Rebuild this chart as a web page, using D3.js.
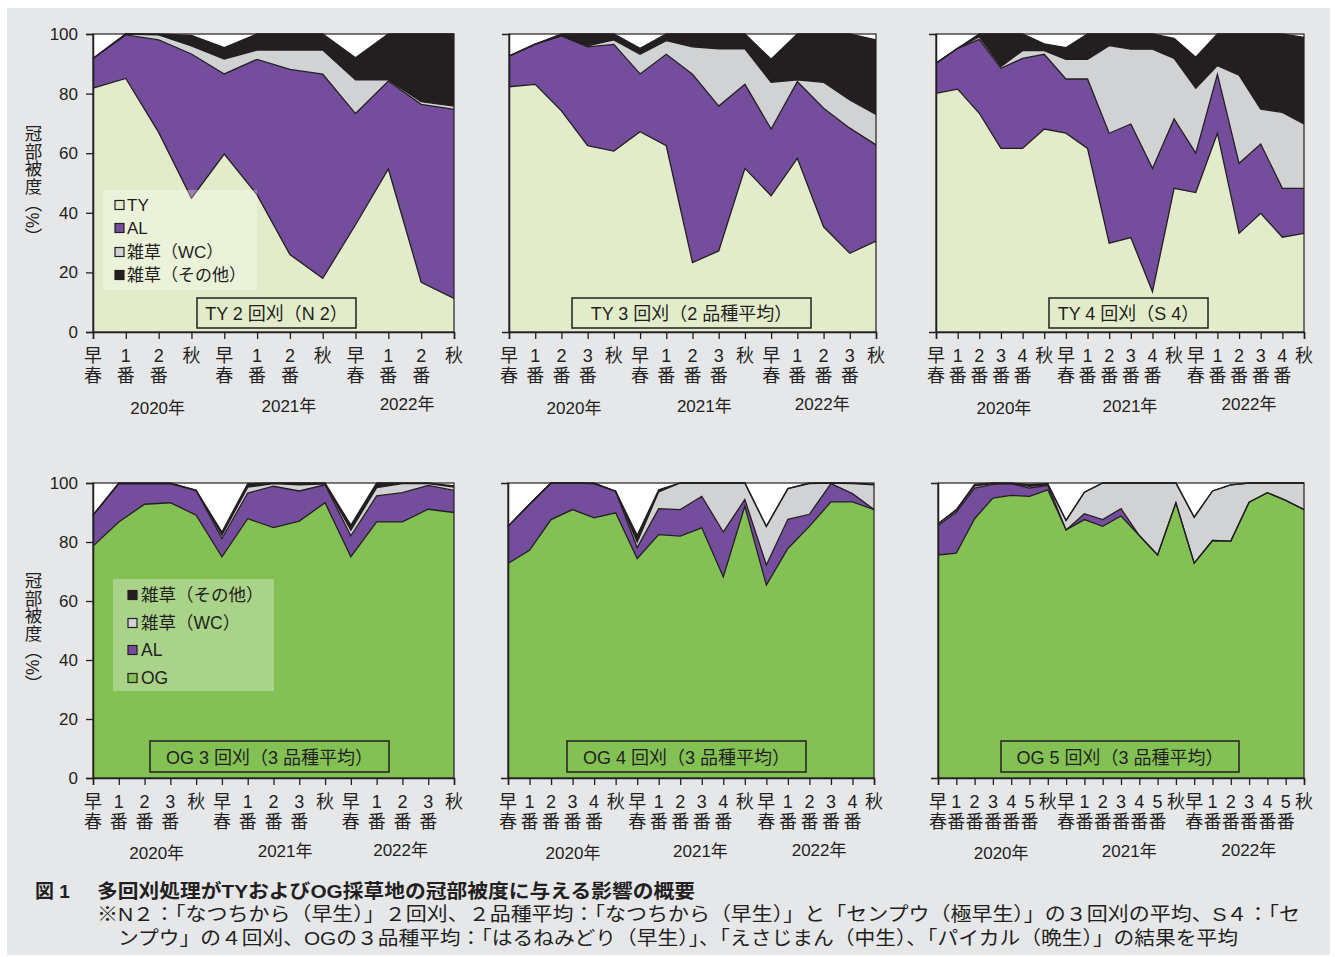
<!DOCTYPE html>
<html><head><meta charset="utf-8">
<script src="https://cdn.jsdelivr.net/npm/d3@7"></script>
<style>
body{margin:0;background:#fff}
svg{display:block}
text{font-family:"Liberation Sans","Noto Sans CJK JP",sans-serif;fill:#231f20}
</style>
</head><body>
<svg id="c" width="1335" height="957"></svg>
<script>
// ---------- categories (x tick labels) ----------
const cycle2 = ["早春","1番","2番","秋"];
const cycle3 = ["早春","1番","2番","3番","秋"];
const cycle4 = ["早春","1番","2番","3番","4番","秋"];
const cycle5 = ["早春","1番","2番","3番","4番","5番","秋"];
const catsTY2 = [...cycle2, ...cycle2, ...cycle2];
const catsTY3 = [...cycle3, ...cycle3, ...cycle3];
const catsTY4 = [...cycle4, ...cycle4, ...cycle4];
const catsOG3 = [...cycle3, ...cycle3, ...cycle3];
const catsOG4 = [...cycle4, ...cycle4, ...cycle4];
const catsOG5 = [...cycle5, ...cycle5, ...cycle5];
const yearLabels = ["2020年","2021年","2022年"];
const yTicks = [0,20,40,60,80,100];

// ---------- series values (%) ----------
// TY 2回刈 (N2)
const ty2_TY  = [81.8,85.1,67.0,44.9,59.7,46.0,26.0,18.0,36.0,54.7,16.7,11.3];
const ty2_AL  = [10.0,14.6,31.0,48.4,26.9,45.5,62.1,68.5,37.3,29.5,59.7,63.4];
const ty2_WC  = [0,0.3,1.7,2.7,5.0,3.1,6.5,8.1,11.3,0.4,0.9,1.1];
const ty2_OT  = [0,0,0.3,3.5,3.8,5.4,5.4,5.4,7.4,15.4,22.7,24.2];
// TY 3回刈 (2品種平均)
const ty3_TY  = [82.3,83.1,74.2,62.5,60.7,67.2,62.5,23.3,27.2,54.9,45.7,58.3,35.3,26.4,30.5];
const ty3_AL  = [10.3,13.5,25.2,33.2,35.8,19.4,30.7,63.2,48.6,28.2,22.4,25.7,39.8,42.0,32.3];
const ty3_WC  = [0,0,0,0.3,1.5,6.6,4.6,9.2,19.2,11.9,15.7,0.6,8.7,9.5,10.2];
const ty3_OT  = [0,0,0.6,4.0,2.0,2.0,2.2,4.3,5.0,5.0,7.7,15.4,16.2,22.1,25.0];
// TY 4回刈 (S4)
const ty4_TY  = [80.1,81.5,73.4,61.6,61.6,68.1,66.7,61.6,29.8,31.7,13.5,48.2,46.8,66.7,33.1,39.8,31.8,33.1];
const ty4_AL  = [10.1,13.7,24.8,26.9,30.2,25.1,18.2,23.3,36.9,38.1,41.4,23.3,13.2,19.8,23.5,23.3,16.4,15.1];
const ty4_WC  = [0,0,0.9,0.6,2.6,1.2,6.6,6.6,29.4,25.1,40.0,20.3,21.8,2.9,29.6,11.7,25.5,21.6];
const ty4_OT  = [0,0,0.9,10.9,5.6,2.3,3.9,8.5,3.9,5.1,5.1,6.7,10.4,10.6,13.8,25.2,26.3,29.1];
// OG 3回刈 (3品種平均)
const og3_OG  = [78.6,86.8,92.8,93.3,89.1,75.0,87.9,84.9,87.1,93.3,75.0,86.8,86.8,91.1,90.0];
const og3_AL  = [10.5,13.0,7.0,6.5,8.4,6.2,8.7,14.0,10.2,6.1,7.1,8.8,9.9,8.1,7.5];
const og3_WC  = [0,0,0,0,0,1.1,2.0,0.9,2.1,0.3,1.9,2.8,3.1,0.6,1.1];
const og3_OT  = [0,0.2,0.2,0.2,0,1.1,1.2,0.2,0.6,0.3,1.7,1.6,0.2,0.2,0.4];
// OG 4回刈 (3品種平均)
const og4_OG  = [72.7,77.2,87.6,91.0,88.2,89.9,74.4,82.5,82.0,84.8,68.2,92.1,65.4,77.8,85.3,93.6,93.6,91.0];
const og4_AL  = [12.6,15.6,12.4,9.0,11.6,7.3,3.7,8.8,9.0,10.7,15.2,2.3,6.8,9.9,4.1,6.2,2.8,0];
const og4_WC  = [0,0,0,0,0,0,1.9,5.7,9.0,4.5,16.6,5.6,13.1,10.4,10.4,0.2,3.4,8.4];
const og4_OT  = [0,0,0,0,0.2,0,2.3,0.7,0,0,0,0,0,0,0.2,0,0.2,0.2];
// OG 5回刈 (3品種平均)
const og5_OG  = [75.6,76.2,87.9,94.9,95.8,95.5,97.7,84.1,87.6,85.3,88.8,82.2,75.6,93.3,72.8,80.5,80.3,93.5,96.7,94.1,91.0];
const og5_AL  = [10.0,13.9,10.4,4.6,4.0,2.8,1.5,0,2.0,2.3,2.5,0,0,0,0,0,0,0,0,0,0];
const og5_WC  = [0.6,0.6,0.7,0.3,0,0.6,0.2,3.2,7.3,12.4,8.7,17.8,24.4,6.7,15.6,16.8,19.1,6.5,3.3,5.9,9.0];
const og5_OT  = [0,0.3,0.5,0.2,0.2,0.6,0.4,0,0,0,0,0,0,0,0,0,0,0,0,0,0];

// ---------- styling ----------
const C = {bg:"#e6e7e9", ty:"#e3ecca", og:"#84c155", al:"#744d9d", wc:"#d1d2d4", ot:"#231f20", ink:"#231f20"};

const svg = d3.select("#c");
svg.append("rect").attr("x",7).attr("y",8).attr("width",1323).attr("height",947).attr("fill",C.bg);

const panels = [
  {cats:catsTY2, keys:["TY","AL","WC","OT"], data:[ty2_TY,ty2_AL,ty2_WC,ty2_OT], colors:[C.ty,C.al,C.wc,C.ot],
   x0:93,x1:454,y0:34,y1:332, title:"TY 2 回刈（N 2）", box:[197,298,356,328], years:[1.97,5.97,9.57], yearY:[408,406,404], yAxis:true,
   legend:{rect:[103,190,154,100], items:[["TY",C.ty],["AL",C.al],["雑草（WC）",C.wc],["雑草（その他）",C.ot]], ys:[205,228,252,275], mx:115, tx:127, fs:17}},
  {cats:catsTY3, keys:["TY","AL","WC","OT"], data:[ty3_TY,ty3_AL,ty3_WC,ty3_OT], colors:[C.ty,C.al,C.wc,C.ot],
   x0:509,x1:876,y0:34,y1:332, title:"TY 3 回刈（2 品種平均）", box:[572,298,811,328], years:[2.48,7.45,11.95], yearY:[408,406,404]},
  {cats:catsTY4, keys:["TY","AL","WC","OT"], data:[ty4_TY,ty4_AL,ty4_WC,ty4_OT], colors:[C.ty,C.al,C.wc,C.ot],
   x0:936,x1:1304,y0:34,y1:332, title:"TY 4 回刈（S 4）", box:[1049,298,1208,328], years:[3.14,8.96,14.46], yearY:[408,406,404]},
  {cats:catsOG3, keys:["OG","AL","WC","OT"], data:[og3_OG,og3_AL,og3_WC,og3_OT], colors:[C.og,C.al,C.wc,C.ot],
   x0:93,x1:454,y0:483,y1:778, title:"OG 3 回刈（3 品種平均）", box:[150,741,389,772], years:[2.47,7.45,11.93], yearY:[853,851.5,850], yAxis:true,
   legend:{rect:[113,579,161,112], items:[["雑草（その他）",C.ot],["雑草（WC）",C.wc],["AL",C.al],["OG",C.og]], ys:[595,623,650,678], mx:128, tx:141, fs:17.5}},
  {cats:catsOG4, keys:["OG","AL","WC","OT"], data:[og4_OG,og4_AL,og4_WC,og4_OT], colors:[C.og,C.al,C.wc,C.ot],
   x0:508,x1:874,y0:483,y1:778, title:"OG 4 回刈（3 品種平均）", box:[567,741,806,772], years:[3.02,8.94,14.45], yearY:[853,851.5,850]},
  {cats:catsOG5, keys:["OG","AL","WC","OT"], data:[og5_OG,og5_AL,og5_WC,og5_OT], colors:[C.og,C.al,C.wc,C.ot],
   x0:938,x1:1304,y0:483,y1:778, title:"OG 5 回刈（3 品種平均）", box:[1001,741,1239,772], years:[3.45,10.45,16.98], yearY:[853,851.5,850]}
];

panels.forEach(p => {
  const n = p.cats.length;
  const idx = d3.range(n);
  const x = d3.scalePoint().domain(idx).range([p.x0,p.x1]);
  const xl = d3.scaleLinear().domain([0,n-1]).range([p.x0,p.x1]);
  const y = d3.scaleLinear().domain([0,100]).range([p.y1,p.y0]);
  const table = idx.map(i => { const r = {i}; p.keys.forEach((k,j)=> r[k] = p.data[j][i]); return r; });
  const stack = d3.stack().keys(p.keys)(table);
  const g = svg.append("g");

  g.append("rect").attr("x",p.x0).attr("y",p.y0).attr("width",p.x1-p.x0).attr("height",p.y1-p.y0).attr("fill","#fff");

  const area = d3.area().x(d=>x(d.data.i)).y0(d=>y(d[0])).y1(d=>y(d[1]));
  const line = d3.line().x(d=>x(d.data.i)).y(d=>y(d[1]));
  g.selectAll("path.a").data(stack).join("path").attr("class","a")
    .attr("d",area).attr("fill",(d,j)=>p.colors[j]);
  g.selectAll("path.l").data(stack).join("path").attr("class","l")
    .attr("d",line).attr("fill","none").attr("stroke",C.ink).attr("stroke-width",1.3).attr("stroke-linejoin","miter");

  // frame
  g.append("rect").attr("x",p.x0).attr("y",p.y0).attr("width",p.x1-p.x0).attr("height",p.y1-p.y0)
    .attr("fill","none").attr("stroke",C.ink).attr("stroke-width",1.2);

  // x axis
  const xa = g.append("g").attr("transform",`translate(0,${p.y1})`)
    .call(d3.axisBottom(x).tickSize(7).tickFormat(""));
  xa.select(".domain").attr("stroke",C.ink).attr("stroke-width",1.5);
  xa.selectAll(".tick line").attr("stroke",C.ink).attr("stroke-width",1.3);
  const r1 = p.y1 + 24, r2 = p.y1 + 43.5;
  p.cats.forEach((c,i) => {
    const chars = Array.from(c);
    g.append("text").attr("x",x(i)).attr("y",r1).attr("text-anchor","middle").attr("dominant-baseline","central")
      .attr("font-size",18).text(chars[0]);
    if (chars[1]) g.append("text").attr("x",x(i)).attr("y",r2).attr("text-anchor","middle").attr("dominant-baseline","central")
      .attr("font-size",18).text(chars[1]);
  });
  yearLabels.forEach((t,k) => {
    g.append("text").attr("x",xl(p.years[k])).attr("y",p.yearY[k]).attr("text-anchor","middle")
      .attr("dominant-baseline","central").attr("font-size",17).text(t);
  });

  // y axis
  const ya = g.append("g").attr("transform",`translate(${p.x0},0)`)
    .call(d3.axisLeft(y).tickValues(yTicks).tickSize(7).tickPadding(8).tickFormat(p.yAxis ? d3.format("d") : ""));
  ya.select(".domain").attr("stroke",C.ink).attr("stroke-width",1.5);
  ya.selectAll(".tick line").attr("stroke",C.ink).attr("stroke-width",1.3);
  ya.selectAll(".tick text").attr("font-size",17).attr("fill",C.ink)
    .attr("font-family","'Liberation Sans',Arial,sans-serif");
  if (!p.yAxis) ya.selectAll(".tick line").remove();

  if (p.yAxis) {
    g.append("text").attr("x",32).attr("y",p.y0 + (p.y1===332 ? 91 : 89))
      .attr("font-size",17.5).attr("style","writing-mode: vertical-rl; text-orientation: mixed;")
      .attr("font-family","'Noto Sans CJK JP',sans-serif").text("冠部被度（%）");
  }

  // title box
  g.append("rect").attr("x",p.box[0]).attr("y",p.box[1]).attr("width",p.box[2]-p.box[0]).attr("height",p.box[3]-p.box[1])
    .attr("fill","none").attr("stroke",C.ink).attr("stroke-width",1.5);
  g.append("text").attr("x",(p.box[0]+p.box[2])/2).attr("y",(p.box[1]+p.box[3])/2+1).attr("text-anchor","middle")
    .attr("dominant-baseline","central").attr("font-size",18).text(p.title);

  // legend
  if (p.legend) {
    const L = p.legend;
    g.append("rect").attr("x",L.rect[0]).attr("y",L.rect[1]).attr("width",L.rect[2]).attr("height",L.rect[3])
      .attr("fill","#fff").attr("fill-opacity",0.3);
    L.items.forEach((it,k) => {
      g.append("rect").attr("x",L.mx).attr("y",L.ys[k]-4.5).attr("width",9).attr("height",9)
        .attr("fill",it[1]).attr("stroke",C.ink).attr("stroke-width",1.2);
      g.append("text").attr("x",L.tx).attr("y",L.ys[k]).attr("dominant-baseline","central")
        .attr("font-size",L.fs).text(it[0]);
    });
  }
});

// caption
const cap = svg.append("g");
cap.append("text").attr("x",35).attr("y",891).attr("dominant-baseline","central").attr("font-size",19)
  .attr("font-weight","bold").attr("font-family","'Noto Sans CJK JP',sans-serif").text("図 1");
cap.append("text").attr("x",97).attr("y",891).attr("dominant-baseline","central").attr("font-size",19)
  .attr("font-weight","bold").attr("font-family","'Noto Sans CJK JP',sans-serif")
  .attr("textLength",598).attr("lengthAdjust","spacingAndGlyphs")
  .text("多回刈処理がTYおよびOG採草地の冠部被度に与える影響の概要");
cap.append("text").attr("x",97).attr("y",914).attr("dominant-baseline","central").attr("font-size",19)
  .attr("font-family","'Noto Sans CJK JP',sans-serif").attr("fill","#333")
  .attr("textLength",1203).attr("lengthAdjust","spacingAndGlyphs")
  .text("※N２：「なつちから（早生）」２回刈、２品種平均：「なつちから（早生）」と「センプウ（極早生）」の３回刈の平均、S４：「セ");
cap.append("text").attr("x",118).attr("y",938).attr("dominant-baseline","central").attr("font-size",19)
  .attr("font-family","'Noto Sans CJK JP',sans-serif").attr("fill","#333")
  .attr("textLength",1120).attr("lengthAdjust","spacingAndGlyphs")
  .text("ンプウ」の４回刈、OGの３品種平均：「はるねみどり（早生）」、「えさじまん（中生）、「パイカル（晩生）」の結果を平均");
</script>
</body></html>
